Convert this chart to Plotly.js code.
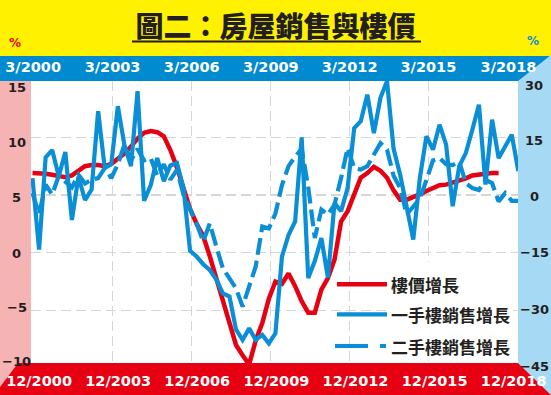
<!DOCTYPE html>
<html><head><meta charset="utf-8">
<script src="https://cdn.plot.ly/plotly-3.0.1.min.js"></script>
<style>html,body{margin:0;padding:0;background:#fff;}#chart{width:551px;height:395px;}</style>
</head><body><div id="chart"></div>
<script>
// Quarterly series, first point = 3/2000 (index 0), one point per quarter
const priceGrowth = [6.9, 6.9, 6.85, 6.75, 6.65, 6.55, 6.7, 7.1, 7.5, 7.6,
  7.6, 7.5, 7.7, 8.15, 8.6, 9.2, 9.9, 10.4, 10.55, 10.45,
  10.1, 8.9, 7.4, 5.6, 3.8, 2.5, 1.45, -0.3, -2.2, -4.2,
  -6.1, -8.0, -8.9, -9.7, -7.6, -6.1, -4.0, -2.5, -2.7, -1.8,
  -2.9, -4.2, -5.2, -5.2, -3.2, -2.2, -0.6, 2.7, 3.6, 5.0,
  6.5, 6.9, 7.45, 7.1, 6.5, 5.4, 4.6, 4.6, 4.8, 5.05,
  5.35, 5.6, 5.85, 5.9, 6.05, 6.25, 6.45, 6.7, 6.8, 6.85,
  6.9, 6.9];
const primarySales = [4.4, -14.2, 9.8, 11.7, 4.9, 11.2, -6.5, 4.8, -1.3, 1.4,
  21.8, 7.0, 8.0, 23.1, 13.0, 7.5, 27.0, -1.5, 2.5, 9.6,
  3.6, 7.7, 8.3, 1.8, -14.5, -16.0, -18.0, -19.5, -22.0, -25.6,
  -26.4, -35.0, -37.7, -34.7, -37.7, -36.4, -38.6, -36.0, -16.0, -10.4,
  -6.9, 15.0, -21.6, -17.2, -11.2, -21.5, -2.1, -4.2, 1.8, 17.4,
  19.2, 26.1, 16.1, 25.3, 29.6, 12.0, 5.3, -3.8, -11.6, 4.4,
  15.3, 11.8, 18.3, 13.1, -2.9, 7.5, 10.9, 17.0, 23.5, 2.7,
  19.6, 9.6, 12.5, 15.7, 6.2];
const secondarySales = [0.5, -5.0, 2.7, 0.1, 5.0, 3.5, 2.0, 5.3, 3.0, 4.0,
  4.4, 7.0, 4.4, 8.0, 13.1, 9.0, 12.0, 9.0, 9.6, 5.0,
  8.0, 4.0, 6.5, 0.1, -3.4, -7.4, -12.1, -7.4, -13.4, -19.1,
  -21.7, -24.3, -29.0, -23.8, -18.6, -8.2, -8.7, -4.8, 2.6, 7.5,
  10.0, 12.0, 2.0, -11.2, -3.8, -5.1, -2.5, 4.4, 12.2, 7.0,
  6.6, 7.5, 10.5, 13.5, 11.8, 5.0, 1.8, -5.1, -3.0, -1.0,
  3.9, 9.0, 9.6, 8.0, 7.8, 8.7, 3.1, 1.8, 1.3, 3.9,
  3.1, -1.7, 0.5, -1.5, -1.5];

const topTickLabels = ['3/2000','3/2003','3/2006','3/2009','3/2012','3/2015','3/2018'];
const bottomTickLabels = ['12/2000','12/2003','12/2006','12/2009','12/2012','12/2015','12/2018'];
const leftTickLabels = ['15','10','5','0','\u22125','\u221210'];
const rightTickLabels = ['30','15','0','\u221215','\u221230','\u221245'];
const legendLabels = ['樓價增長','一手樓銷售增長','二手樓銷售增長'];
const titleText = '圖二：房屋銷售與樓價';

// ---- layout geometry (pixels) ----
const W = 551, H = 395, PL = 31, PR = 518, PT = 81, PB = 363;
const px2x = p => (p - PL) / (PR - PL);
const py2y = p => (PB - p) / (PB - PT);
const xRange = [-0.228, 73.95];
const yLeftRange = [-9.566, 14.887];
const yRightRange = [-43.70, 29.66];
const topTickPos = [0.1, 12.2, 24.25, 36.3, 48.3, 60.3, 72.5];
const bottomTickPos = [1.0, 13.05, 25.1, 37.15, 49.2, 61.25, 73.3];
const gridPos = [12.22, 24.25, 36.28, 48.32, 60.29];
const leftLabelY = [87, 142, 197, 253, 307, 361];
const rightLabelY = [85.5, 140, 196, 252.5, 309, 366];

const RED = '#e60012', BLUE = '#0a8fd6', BAND_BLUE = '#008bd0', PINK = '#f5b3b3',
      LIGHT_BLUE = '#a6d9f4', YELLOW = '#fff100', INK = '#231f20', GRID = '#d6d6d6';

const idx = arr => arr.map((_, i) => i);

const traces = [
  {x: idx(priceGrowth), y: priceGrowth, xaxis: 'x', yaxis: 'y', type: 'scatter', mode: 'lines',
   name: legendLabels[0], line: {color: RED, width: 4.5}, hoverinfo: 'skip'},
  {x: idx(primarySales), y: primarySales, xaxis: 'x2', yaxis: 'y2', type: 'scatter', mode: 'lines',
   name: legendLabels[1], line: {color: BLUE, width: 4.2}, hoverinfo: 'skip'},
  {x: idx(secondarySales), y: secondarySales, xaxis: 'x3', yaxis: 'y2', type: 'scatter', mode: 'lines',
   name: legendLabels[2], line: {color: BLUE, width: 4.2, dash: '17px,6px'}, hoverinfo: 'skip'}
];

function path(pts) {
  return 'M' + pts.map(p => px2x(p[0]).toFixed(5) + ',' + py2y(p[1]).toFixed(5)).join('L') + 'Z';
}
function rect(x0, y0, x1, y1, color, layer) {
  return {type: 'rect', xref: 'paper', yref: 'paper', x0: px2x(x0), x1: px2x(x1),
          y0: py2y(y1), y1: py2y(y0), fillcolor: color, line: {width: 0}, layer: layer || 'below'};
}
function hline(x0, x1, y, color, width, dash) {
  return {type: 'line', xref: 'paper', yref: 'paper', x0: px2x(x0), x1: px2x(x1),
          y0: py2y(y), y1: py2y(y), line: {color: color, width: width, dash: dash || 'solid'}, layer: 'above'};
}

const shapes = [
  rect(0, 0, W, 56, YELLOW),
  rect(0, 56, W, PT, BAND_BLUE),
  {type: 'path', xref: 'paper', yref: 'paper', path: path([[PR, PT], [W, 55], [W, H], [PR, PB]]),
   fillcolor: LIGHT_BLUE, line: {width: 0}, layer: 'below'},
  {type: 'path', xref: 'paper', yref: 'paper', path: path([[0, PT], [PL, PT], [PL, PB], [18, PB], [0, 387]]),
   fillcolor: PINK, line: {width: 0}, layer: 'below'},
  {type: 'path', xref: 'paper', yref: 'paper', path: path([[18, PB], [PR, PB], [W, H], [0, H], [0, 387]]),
   fillcolor: RED, line: {width: 0}, layer: 'below'},
  hline(132, 421, 41.5, INK, 2),
  rect(389, 262, 513, 360, '#ffffff', 'above'),
  hline(337, 387, 284.3, RED, 4.5),
  hline(337, 387, 314.3, BLUE, 4.2),
  hline(335, 387, 346, BLUE, 4.2, '33px,12px,6px,60px')
];

const tickFont = {family: 'DejaVu Sans', size: 13, color: INK, weight: 'bold'};
const annotations = [];
leftTickLabels.forEach((t, i) => annotations.push({text: t, xref: 'paper', yref: 'paper',
  x: px2x(16.5), y: py2y(leftLabelY[i]), xanchor: 'center', yanchor: 'middle', showarrow: false, font: tickFont}));
rightTickLabels.forEach((t, i) => annotations.push({text: t, xref: 'paper', yref: 'paper',
  x: px2x(534), y: py2y(rightLabelY[i]), xanchor: 'center', yanchor: 'middle', showarrow: false, font: tickFont}));
annotations.push({text: '%', xref: 'paper', yref: 'paper', x: px2x(15), y: py2y(43), xanchor: 'center', yanchor: 'middle',
  showarrow: false, font: {family: 'DejaVu Sans', size: 12, color: RED, weight: 'bold'}});
annotations.push({text: '%', xref: 'paper', yref: 'paper', x: px2x(533), y: py2y(41), xanchor: 'center', yanchor: 'middle',
  showarrow: false, font: {family: 'DejaVu Sans', size: 12, color: BLUE, weight: 'bold'}});
const legendY = [284.3, 314.3, 346];
legendLabels.forEach((t, i) => annotations.push({text: t, xref: 'paper', yref: 'paper',
  x: px2x(389), y: py2y(legendY[i]), xanchor: 'left', yanchor: 'middle', showarrow: false,
  font: {family: 'Noto Sans CJK TC', size: 17, color: INK, weight: 'bold'}}));

const bandFont = {family: 'DejaVu Sans', size: 14.5, color: '#ffffff', weight: 'bold'};
const layout = {
  width: W, height: H, autosize: false,
  margin: {l: PL, r: W - PR, t: PT, b: H - PB, pad: 0},
  paper_bgcolor: '#ffffff', plot_bgcolor: 'rgba(0,0,0,0)',
  showlegend: false,
  title: {text: titleText, xref: 'container', yref: 'container', x: 0.5, xanchor: 'center',
          y: 1 - 27 / H, yanchor: 'middle',
          font: {family: 'Noto Sans CJK TC', size: 28, color: INK, weight: 900}},
  xaxis: {range: xRange, tickmode: 'array', tickvals: bottomTickPos, ticktext: bottomTickLabels,
          showgrid: false, zeroline: false, showline: false, ticks: 'outside', ticklen: 5,
          tickcolor: 'rgba(0,0,0,0)', tickangle: 0, tickfont: bandFont, automargin: false, fixedrange: true},
  xaxis2: {range: xRange, overlaying: 'x', side: 'top', anchor: 'y', tickmode: 'array', tickvals: topTickPos,
           ticktext: topTickLabels, showgrid: false, zeroline: false, showline: false, ticks: 'outside', ticklen: 2,
           tickcolor: 'rgba(0,0,0,0)', tickangle: 0, tickfont: bandFont, automargin: false, fixedrange: true},
  xaxis3: {range: xRange, overlaying: 'x', anchor: 'y', tickmode: 'array', tickvals: gridPos,
           showticklabels: false, showgrid: true, gridcolor: GRID, gridwidth: 1.5, griddash: '10px,5px',
           zeroline: false, showline: false, ticks: '', automargin: false, fixedrange: true},
  yaxis: {range: yLeftRange, tickmode: 'array', tickvals: [-5, 0, 5, 10], showticklabels: false,
          showgrid: true, gridcolor: GRID, gridwidth: 1.5, griddash: '10px,5px', zeroline: false,
          showline: false, ticks: '', automargin: false, fixedrange: true},
  yaxis2: {range: yRightRange, overlaying: 'y', side: 'right', showgrid: false, showticklabels: false,
           zeroline: false, showline: false, ticks: '', automargin: false, fixedrange: true},
  shapes: shapes,
  annotations: annotations
};

Plotly.newPlot('chart', traces, layout, {displayModeBar: false, staticPlot: true});
</script>
</body></html>
